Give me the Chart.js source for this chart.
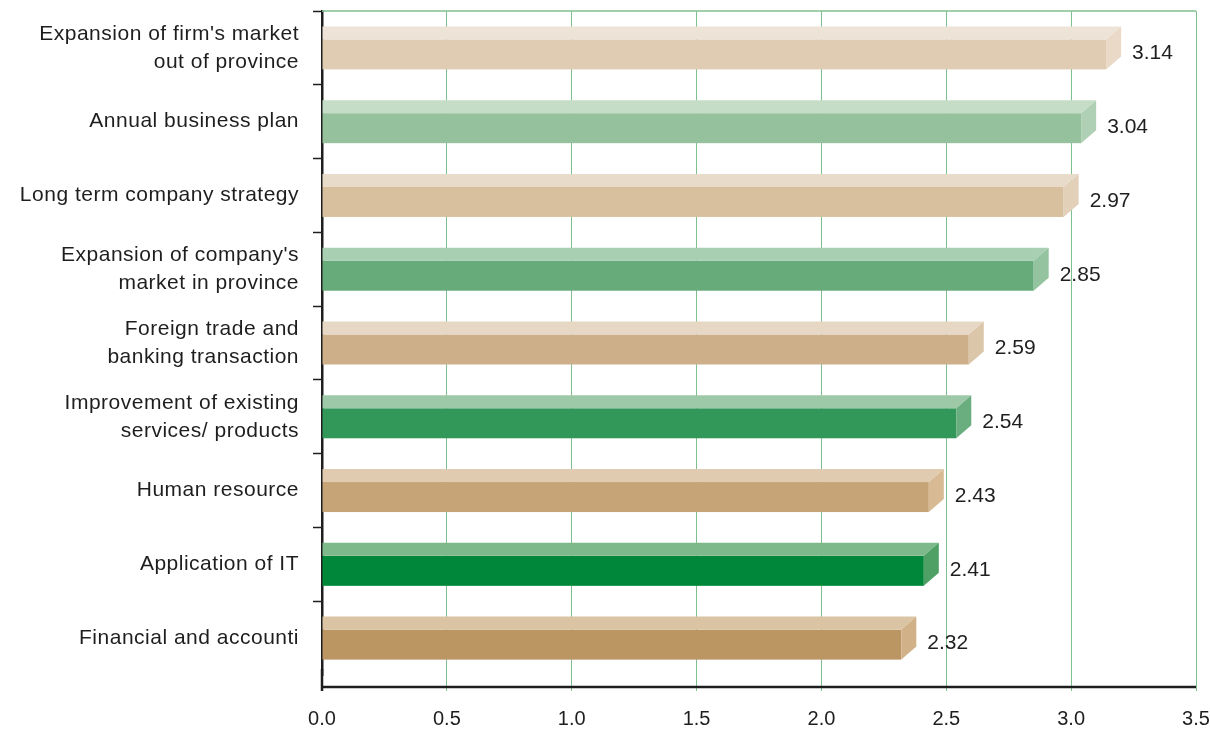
<!DOCTYPE html>
<html>
<head>
<meta charset="utf-8">
<script src="https://cdn.jsdelivr.net/npm/chart.js@4.4.1/dist/chart.umd.min.js"></script>
<style>
  html, body { margin: 0; padding: 0; background: #ffffff; }
  #wrap { width: 1210px; height: 731px; position: relative; }
</style>
</head>
<body>
<div id="wrap"><canvas id="c"></canvas></div>
<script>
// ---- data ----
const categories = [
  ["Expansion of firm's market", "out of province"],
  "Annual business plan",
  "Long term company strategy",
  ["Expansion of company's", "market in province"],
  ["Foreign trade and", "banking transaction"],
  ["Improvement of existing", "services/ products"],
  "Human resource",
  "Application of IT",
  "Financial and accounti"
];
const values = [3.14, 3.04, 2.97, 2.85, 2.59, 2.54, 2.43, 2.41, 2.32];
const valueLabels = ["3.14", "3.04", "2.97", "2.85", "2.59", "2.54", "2.43", "2.41", "2.32"];
const xTickLabels = ["0.0", "0.5", "1.0", "1.5", "2.0", "2.5", "3.0", "3.5"];

// ---- styles ----
const frontColors = ["#e0cbb3", "#95c19c", "#d8c09f", "#66ab79", "#cdb08a", "#329859", "#c6a478", "#00873a", "#bb9663"];
const topColors   = ["#eee3d7", "#c5dcc7", "#e8dbca", "#a9cfb3", "#e6d8c4", "#9ec9a8", "#e0cbb1", "#7db98b", "#dbc4a4"];
const sideColors  = ["#e9d9c6", "#b0d0b5", "#e2d0b9", "#94c3a0", "#dcc6a9", "#6aad7e", "#d8bb95", "#4ea065", "#d1b288"];
const FONT = "'Liberation Sans', Arial, Helvetica, sans-serif";
const DX = 15, DY = 13;
const FLOOR = 12;

const bar3d = {
  id: 'bar3d',
  beforeDatasetsDraw(chart) {
    const { ctx, chartArea } = chart;
    ctx.save();
    ctx.strokeStyle = '#7fbf8f';
    ctx.lineWidth = 1.5;
    ctx.beginPath();
    ctx.moveTo(chartArea.left, chartArea.top);
    ctx.lineTo(chartArea.right, chartArea.top);
    ctx.stroke();
    ctx.restore();
  },
  afterDatasetsDraw(chart) {
    const { ctx } = chart;
    const meta = chart.getDatasetMeta(0);
    ctx.save();
    meta.data.forEach((el, i) => {
      const p = el.getProps(['x', 'y', 'base', 'height'], true);
      const top = p.y - p.height / 2;
      const bottom = p.y + p.height / 2;
      const ft = top + DY;
      ctx.fillStyle = frontColors[i];
      ctx.fillRect(p.base, ft, p.x - p.base, bottom - ft);
      ctx.fillStyle = topColors[i];
      ctx.beginPath();
      ctx.moveTo(p.base, ft);
      ctx.lineTo(p.x, ft);
      ctx.lineTo(p.x + DX, top);
      ctx.lineTo(p.base, top);
      ctx.closePath();
      ctx.fill();
      ctx.fillStyle = sideColors[i];
      ctx.beginPath();
      ctx.moveTo(p.x, ft);
      ctx.lineTo(p.x + DX, top);
      ctx.lineTo(p.x + DX, bottom - DY);
      ctx.lineTo(p.x, bottom);
      ctx.closePath();
      ctx.fill();
      ctx.fillStyle = '#1e1e1e';
      ctx.font = '21px ' + FONT;
      ctx.textAlign = 'left';
      ctx.textBaseline = 'middle';
      ctx.fillText(valueLabels[i], p.x + 26, (ft + bottom) / 2 - 1);
    });
    ctx.restore();
  },
  afterDraw(chart) {
    const { ctx, chartArea } = chart;
    const yb = chartArea.bottom + FLOOR;
    ctx.save();
    ctx.strokeStyle = '#1e1e1e';
    ctx.lineWidth = 2.5;
    ctx.beginPath();
    ctx.moveTo(chartArea.left - 1, yb);
    ctx.lineTo(chartArea.right, yb);
    ctx.stroke();
    ctx.beginPath();
    ctx.moveTo(chartArea.left, chartArea.bottom - 6);
    ctx.lineTo(chartArea.left, yb + 4);
    ctx.stroke();
    ctx.restore();
  }
};

function spacedLabels(s) {
  if (s._spaced) return;
  const orig = s.drawLabels.bind(s);
  s.drawLabels = function (ca) {
    const c = this.ctx;
    c.save();
    c.letterSpacing = '0.5px';
    orig(ca);
    c.restore();
  };
  s._spaced = true;
}

new Chart(document.getElementById('c'), {
  type: 'bar',
  data: {
    labels: categories,
    datasets: [{
      data: values,
      backgroundColor: 'rgba(0,0,0,0)',
      borderWidth: 0,
      barThickness: 43
    }]
  },
  options: {
    indexAxis: 'y',
    responsive: true,
    maintainAspectRatio: false,
    animation: false,
    events: [],
    layout: { padding: { top: 11, right: 14, left: 0, bottom: 0 } },
    plugins: { legend: { display: false }, tooltip: { enabled: false } },
    scales: {
      x: {
        type: 'linear',
        min: 0,
        max: 3.5,
        afterFit(s) { s.height = 56; s.paddingLeft = 0; s.paddingRight = 0; },
        border: { display: false },
        grid: {
          color: '#7fbf8f',
          lineWidth: 1,
          drawTicks: true,
          tickLength: 16,
          tickColor: '#7fbf8f'
        },
        ticks: {
          stepSize: 0.5,
          padding: 16,
          color: '#1e1e1e',
          font: { family: FONT, size: 20 },
          maxRotation: 0,
          callback(v, i) { return xTickLabels[i]; }
        }
      },
      y: {
        afterFit(s) { s.width = 322; s.paddingTop = 0; s.paddingBottom = 0; spacedLabels(s); },
        border: { display: true, color: '#1e1e1e', width: 2.5 },
        grid: {
          drawOnChartArea: false,
          drawTicks: true,
          tickLength: 9,
          tickWidth: 1.5,
          tickColor(ctx) { return ctx.type !== 'tick' ? 'rgba(0,0,0,0)' : '#1e1e1e'; }
        },
        ticks: {
          padding: 14,
          color: '#1e1e1e',
          font: { family: FONT, size: 21, lineHeight: 1.333 }
        }
      }
    }
  },
  plugins: [bar3d]
});
</script>
</body>
</html>
